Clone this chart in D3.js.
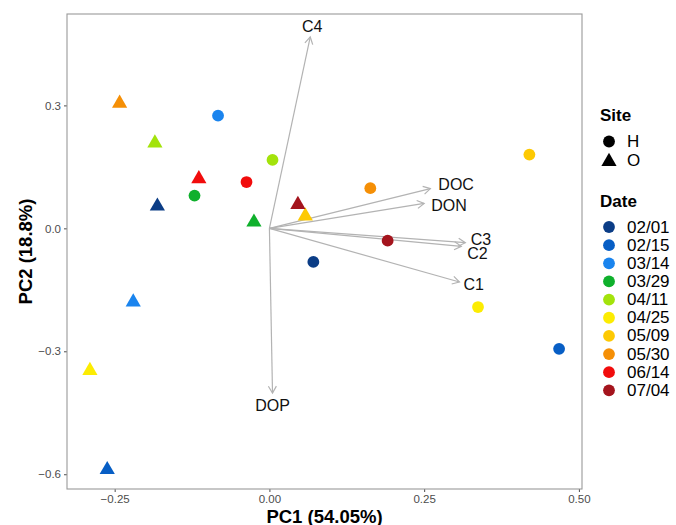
<!DOCTYPE html>
<html lang="en">
<head>
  <meta charset="UTF-8">
  <script src="https://cdn.jsdelivr.net/npm/d3@7"></script>
  <style>
    body { margin: 0; background: #fff; }
    text { font-family: "Liberation Sans", Arial, sans-serif; }
  </style>
</head>
<body>
<div id="container"></div>
<script>

// Sampling dates and their colours
const dates = ["02/01", "02/15", "03/14", "03/29", "04/11", "04/25", "05/09", "05/30", "06/14", "07/04"];
const dateColors = ["#0b3d86", "#075ec5", "#1a84ee", "#0fb02c", "#a3e30b", "#fcec02", "#fdc903", "#f58f06", "#f10c0c", "#a4141d"];

const sites = ["H", "O"];

// PCA scores, one value per date (same order as dates)
const hPC1 = [0.071, 0.468, -0.083, -0.121, 0.005, 0.337, 0.420, 0.163, -0.037, 0.191];
const hPC2 = [-0.082, -0.294, 0.275, 0.080, 0.167, -0.192, 0.180, 0.098, 0.113, -0.030];
const oPC1 = [-0.181, -0.262, -0.220, -0.025, -0.185, -0.290, 0.058, -0.242, -0.114, 0.046];
const oPC2 = [0.054, -0.589, -0.180, 0.015, 0.208, -0.347, 0.030, 0.305, 0.121, 0.058];

// loadings (arrows)
const varNames = ["C4", "DOC", "DON", "C3", "C2", "C1", "DOP"];
const loadPC1 = [0.066, 0.260, 0.250, 0.3165, 0.310, 0.307, 0.005];
const loadPC2 = [0.467, 0.097, 0.061, -0.035, -0.044, -0.131, -0.402];

const xTicks = [-0.25, 0.00, 0.25, 0.50];
const yTicks = [-0.6, -0.3, 0.0, 0.3];

const width = 676;
const height = 525;
const panel = { left: 67, top: 14, right: 582, bottom: 489 };

const x = d3.scaleLinear().domain([-0.327, 0.505]).range([panel.left, panel.right]);
const y = d3.scaleLinear().domain([-0.636, 0.523]).range([panel.bottom, panel.top]);

const svg = d3.create("svg")
    .attr("width", width)
    .attr("height", height);

// axes
const xAxis = svg.append("g")
    .attr("transform", `translate(0,${panel.bottom})`)
    .call(d3.axisBottom(x).tickValues(xTicks).tickSizeOuter(0).tickSize(3).tickPadding(3));
const yAxis = svg.append("g")
    .attr("transform", `translate(${panel.left},0)`)
    .call(d3.axisLeft(y).tickValues(yTicks).tickSizeOuter(0).tickSize(3).tickPadding(3));
xAxis.selectAll("text").text(d => d3.format(".2f")(d).replace("-", "\u2212"));
yAxis.selectAll("text").text(d => d3.format(".1f")(d).replace("-", "\u2212"));
[xAxis, yAxis].forEach(a => {
  a.select(".domain").remove();
  a.selectAll("line").attr("stroke", "#4d4d4d");
  a.selectAll("text").attr("fill", "#4d4d4d").style("font-size", "11.5px")
    .style("font-family", "'Liberation Sans', Arial, sans-serif");
});

// panel border
svg.append("rect")
    .attr("x", panel.left)
    .attr("y", panel.top)
    .attr("width", panel.right - panel.left)
    .attr("height", panel.bottom - panel.top)
    .attr("fill", "none")
    .attr("stroke", "#9a9a9a")
    .attr("stroke-width", 1.1);

// arrows
const labelNudge = {
  C4: [2, -10.5, "middle"], DOC: [8, -4.5, "start"], DON: [7, 2, "start"],
  C3: [5.5, -3, "start"], C2: [6, 7, "start"], C1: [4, 2, "start"], DOP: [0, 12.5, "middle"]
};
const arrowG = svg.append("g");
varNames.forEach((name, i) => {
  const x0 = x(0), y0 = y(0);
  const x1 = x(loadPC1[i]), y1 = y(loadPC2[i]);
  const ang = Math.atan2(y1 - y0, x1 - x0);
  const len = 8, spread = Math.PI / 6;
  arrowG.append("line")
      .attr("x1", x0).attr("y1", y0).attr("x2", x1).attr("y2", y1)
      .attr("stroke", "#b3b3b3").attr("stroke-width", 1.2);
  arrowG.append("path")
      .attr("d", `M${x1 - len * Math.cos(ang - spread)},${y1 - len * Math.sin(ang - spread)}L${x1},${y1}L${x1 - len * Math.cos(ang + spread)},${y1 - len * Math.sin(ang + spread)}`)
      .attr("fill", "none").attr("stroke", "#b3b3b3").attr("stroke-width", 1.2);
  const nd = labelNudge[name];
  arrowG.append("text")
      .attr("x", x1 + nd[0]).attr("y", y1 + nd[1])
      .attr("text-anchor", nd[2])
      .attr("dominant-baseline", "central")
      .style("font-size", "16px")
      .attr("fill", "#111")
      .text(name);
});

// points
const pts = svg.append("g");
dates.forEach((d, i) => {
  pts.append("circle")
      .attr("cx", x(hPC1[i])).attr("cy", y(hPC2[i])).attr("r", 5.9)
      .attr("fill", dateColors[i]);
  pts.append("path")
      .attr("d", d3.symbol(d3.symbolTriangle, 100)())
      .attr("transform", `translate(${x(oPC1[i])},${y(oPC2[i])})`)
      .attr("fill", dateColors[i]);
});

// axis titles
svg.append("text")
    .attr("x", (panel.left + panel.right) / 2)
    .attr("y", 523)
    .attr("text-anchor", "middle")
    .style("font-size", "18.5px").style("font-weight", "bold")
    .text("PC1 (54.05%)");
svg.append("text")
    .attr("transform", `translate(32,${(panel.top + panel.bottom) / 2}) rotate(-90)`)
    .attr("text-anchor", "middle")
    .style("font-size", "18.5px").style("font-weight", "bold")
    .text("PC2 (18.8%)");

// legend
const lg = svg.append("g");
lg.append("text").attr("x", 600).attr("y", 121)
    .style("font-size", "17px").style("font-weight", "bold").text("Site");
sites.forEach((s, i) => {
  const cy = 141.5 + i * 19;
  if (s === "H") {
    lg.append("circle").attr("cx", 609).attr("cy", cy).attr("r", 5.9).attr("fill", "#000");
  } else {
    lg.append("path").attr("d", d3.symbol(d3.symbolTriangle, 100)())
        .attr("transform", `translate(609,${cy + 1})`).attr("fill", "#000");
  }
  lg.append("text").attr("x", 627).attr("y", cy).attr("dominant-baseline", "central")
      .style("font-size", "17px").text(s);
});
lg.append("text").attr("x", 600).attr("y", 207)
    .style("font-size", "17px").style("font-weight", "bold").text("Date");
dates.forEach((d, i) => {
  const cy = 227 + i * 18.15;
  lg.append("circle").attr("cx", 609).attr("cy", cy).attr("r", 5.9).attr("fill", dateColors[i]);
  lg.append("text").attr("x", 627).attr("y", cy).attr("dominant-baseline", "central")
      .style("font-size", "17px").text(d);
});

document.getElementById("container").appendChild(svg.node());

</script>
</body>
</html>
